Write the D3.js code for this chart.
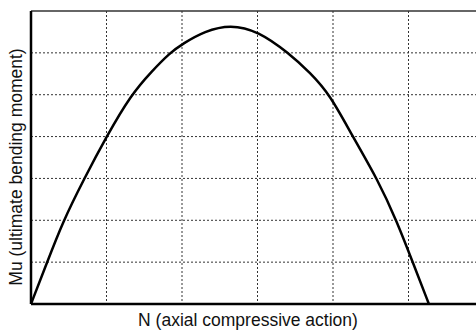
<!DOCTYPE html>
<html>
<head>
<meta charset="utf-8">
<script src="https://cdn.jsdelivr.net/npm/d3@7"></script>
<style>
  body { margin: 0; background: #fff; }
  svg { display: block; font-family: "Liberation Sans", Arial, sans-serif; }
</style>
</head>
<body>
<div id="chart"></div>
<script>
// interaction curve (axis units = grid cells)
let nValues  = [0, 0.21, 0.42, 0.70, 1.00, 1.325, 1.60, 1.84, 2.01, 2.30, 2.64, 3.01, 3.41, 3.70, 3.96, 4.26, 4.59, 4.85, 5.06, 5.27];
let muValues = [0, 0.98, 1.96, 2.98, 4.00, 5.00, 5.56, 6.00, 6.22, 6.52, 6.68, 6.52, 6.00, 5.52, 5.00, 4.00, 2.98, 1.96, 0.98, 0];
let xTicks = [1, 2, 3, 4, 5];
let yTicks = [1, 2, 3, 4, 5, 6];
let xLabel = 'N (axial compressive action)';
let yLabel = 'Mu (ultimate bending moment)';

let svgWidth = 476;
let svgHeight = 331;
let margin = { top: 11, right: -8, bottom: 27, left: 31 };
let width = svgWidth - margin.left - margin.right;
let height = svgHeight - margin.top - margin.bottom;

let data = nValues.map((n, i) => ({ n: n, mu: muValues[i] }));

let x = d3.scaleLinear().domain([0, 6]).range([0, width]);
let y = d3.scaleLinear().domain([0, 7]).range([height, 0]);

let svg = d3.select('#chart')
    .append('svg')
    .attr('width', svgWidth)
    .attr('height', svgHeight);

let chart = svg.append('g')
    .attr('transform', `translate(${margin.left},${margin.top})`);

// dotted grid
chart.append('g')
    .selectAll('line')
    .data(xTicks)
    .join('line')
    .attr('x1', d => x(d)).attr('x2', d => x(d))
    .attr('y1', 0).attr('y2', height)
    .attr('stroke', '#333')
    .attr('stroke-width', 1)
    .attr('stroke-dasharray', '2,2');

chart.append('g')
    .selectAll('line')
    .data(yTicks)
    .join('line')
    .attr('x1', 0).attr('x2', width)
    .attr('y1', d => y(d)).attr('y2', d => y(d))
    .attr('stroke', '#333')
    .attr('stroke-width', 1)
    .attr('stroke-dasharray', '2,2');

// frame: thin top, thick left and bottom
chart.append('line')
    .attr('x1', 0).attr('x2', width)
    .attr('y1', 0).attr('y2', 0)
    .attr('stroke', '#333')
    .attr('stroke-width', 1.5);

chart.append('line')
    .attr('x1', 0).attr('x2', 0)
    .attr('y1', 0).attr('y2', height)
    .attr('stroke', '#000')
    .attr('stroke-width', 2.5);

chart.append('line')
    .attr('x1', 0).attr('x2', width)
    .attr('y1', height).attr('y2', height)
    .attr('stroke', '#000')
    .attr('stroke-width', 2.5);

// curve (b-spline smooths out reading error)
let line = d3.line()
    .x(d => x(d.n))
    .y(d => y(d.mu))
    .curve(d3.curveBasis);

chart.append('path')
    .datum(data)
    .attr('fill', 'none')
    .attr('stroke', '#000')
    .attr('stroke-width', 2.5)
    .attr('stroke-linejoin', 'round')
    .attr('d', line);

// axis titles
svg.append('text')
    .attr('x', 248)
    .attr('y', 326)
    .attr('text-anchor', 'middle')
    .attr('font-size', 17.5)
    .attr('fill', '#111')
    .text(xLabel);

svg.append('text')
    .attr('transform', 'translate(22,167) rotate(-90)')
    .attr('text-anchor', 'middle')
    .attr('font-size', 17.5)
    .attr('fill', '#111')
    .text(yLabel);
</script>
</body>
</html>
